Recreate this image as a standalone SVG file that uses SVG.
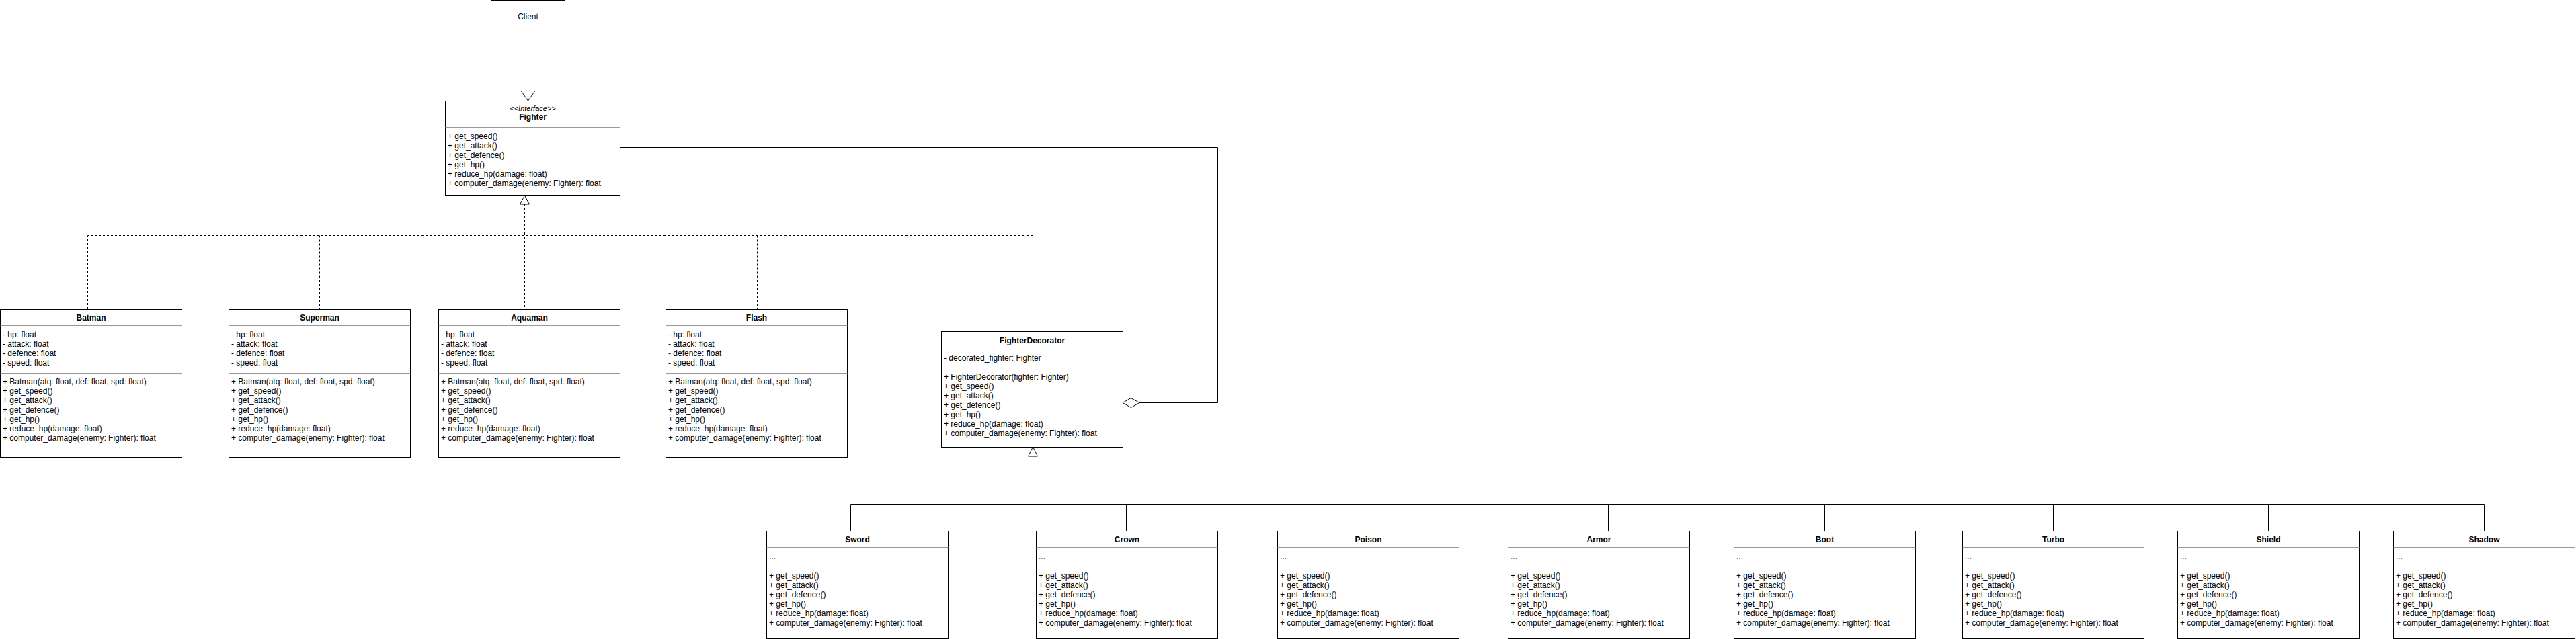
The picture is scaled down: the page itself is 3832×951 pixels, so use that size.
<svg xmlns="http://www.w3.org/2000/svg" width="3832" height="951" viewBox="0 0 3832 951">
<style>
.box{fill:#fff;stroke:#000;stroke-width:1}
.div{stroke:#999;stroke-width:1}
.t{font-family:"Liberation Sans",Arial,sans-serif;font-size:12px;fill:#000}
.b{font-weight:bold;text-anchor:middle}
.c{text-anchor:middle}
.i{font-style:italic;font-size:11px}
.dots{fill:#666}
.ln{fill:none;stroke:#000;stroke-width:1}
.dash{fill:none;stroke:#000;stroke-width:1;stroke-dasharray:3 3}
.tri{fill:#fff;stroke:#000;stroke-width:1}
</style>
<rect width="3832" height="951" fill="#fff"/>

<g id="connectors">
  <path class="ln" d="M785.5 50 V150"/>
  <path class="ln" d="M775.5 136 L785.5 150 L795.5 136"/>
  <path class="dash" d="M780.5 304 V460"/>
  <path class="dash" d="M130.5 460 V350.5 H1536.5 V493"/>
  <path class="dash" d="M475.5 350.5 V460"/>
  <path class="dash" d="M1126.5 350.5 V460"/>
  <polygon class="tri" points="780.5,291 773.5,304 787.5,304"/>
  <path class="ln" d="M922 219.5 H1811.5 V599.5 H1695"/>
  <polygon class="tri" points="1670,599.5 1682.5,592.5 1695,599.5 1682.5,606.5"/>
  <polygon class="tri" points="1536.5,665 1529.5,679 1543.5,679"/>
  <path class="ln" d="M1536.5 679 V750.5"/>
  <path class="ln" d="M1265.5 790 V750.5 H3695.5 V790"/>
  <path class="ln" d="M1675.5 750.5 V790 M2033.5 750.5 V790 M2392.5 750.5 V790 M2714.5 750.5 V790 M3054.5 750.5 V790 M3374.5 750.5 V790"/>
</g>

<g id="client">
  <rect class="box" x="730.5" y="0.5" width="110" height="50"/>
  <text class="t c" x="785.5" y="29">Client</text>
</g>

<g id="fighter">
  <rect class="box" x="662.5" y="150.5" width="260" height="140"/>
  <line class="div" x1="662.5" y1="189.5" x2="922.5" y2="189.5"/>
  <text class="t c i" x="792.5" y="165">&lt;&lt;Interface&gt;&gt;</text>
  <text class="t b" x="792.5" y="178">Fighter</text>
  <text class="t" x="666" y="207">+ get_speed()</text>
  <text class="t" x="666" y="221">+ get_attack()</text>
  <text class="t" x="666" y="235">+ get_defence()</text>
  <text class="t" x="666" y="249">+ get_hp()</text>
  <text class="t" x="666" y="263">+ reduce_hp(damage: float)</text>
  <text class="t" x="666" y="277">+ computer_damage(enemy: Fighter): float</text>
</g>

<g id="batman" transform="translate(0,460)">
  <rect class="box" x="0.5" y="0.5" width="270" height="220"/>
  <line class="div" x1="0.5" y1="24.5" x2="270.5" y2="24.5"/>
  <line class="div" x1="0.5" y1="95.5" x2="270.5" y2="95.5"/>
  <text class="t b" x="135.5" y="17">Batman</text>
  <text class="t" x="4" y="42">- hp: float</text>
  <text class="t" x="4" y="56">- attack: float</text>
  <text class="t" x="4" y="70">- defence: float</text>
  <text class="t" x="4" y="84">- speed: float</text>
  <text class="t" x="4" y="112">+ Batman(atq: float, def: float, spd: float)</text>
  <text class="t" x="4" y="126">+ get_speed()</text>
  <text class="t" x="4" y="140">+ get_attack()</text>
  <text class="t" x="4" y="154">+ get_defence()</text>
  <text class="t" x="4" y="168">+ get_hp()</text>
  <text class="t" x="4" y="182">+ reduce_hp(damage: float)</text>
  <text class="t" x="4" y="196">+ computer_damage(enemy: Fighter): float</text>
</g>

<g id="superman" transform="translate(340,460)">
  <rect class="box" x="0.5" y="0.5" width="270" height="220"/>
  <line class="div" x1="0.5" y1="24.5" x2="270.5" y2="24.5"/>
  <line class="div" x1="0.5" y1="95.5" x2="270.5" y2="95.5"/>
  <text class="t b" x="135.5" y="17">Superman</text>
  <text class="t" x="4" y="42">- hp: float</text>
  <text class="t" x="4" y="56">- attack: float</text>
  <text class="t" x="4" y="70">- defence: float</text>
  <text class="t" x="4" y="84">- speed: float</text>
  <text class="t" x="4" y="112">+ Batman(atq: float, def: float, spd: float)</text>
  <text class="t" x="4" y="126">+ get_speed()</text>
  <text class="t" x="4" y="140">+ get_attack()</text>
  <text class="t" x="4" y="154">+ get_defence()</text>
  <text class="t" x="4" y="168">+ get_hp()</text>
  <text class="t" x="4" y="182">+ reduce_hp(damage: float)</text>
  <text class="t" x="4" y="196">+ computer_damage(enemy: Fighter): float</text>
</g>

<g id="aquaman" transform="translate(652,460)">
  <rect class="box" x="0.5" y="0.5" width="270" height="220"/>
  <line class="div" x1="0.5" y1="24.5" x2="270.5" y2="24.5"/>
  <line class="div" x1="0.5" y1="95.5" x2="270.5" y2="95.5"/>
  <text class="t b" x="135.5" y="17">Aquaman</text>
  <text class="t" x="4" y="42">- hp: float</text>
  <text class="t" x="4" y="56">- attack: float</text>
  <text class="t" x="4" y="70">- defence: float</text>
  <text class="t" x="4" y="84">- speed: float</text>
  <text class="t" x="4" y="112">+ Batman(atq: float, def: float, spd: float)</text>
  <text class="t" x="4" y="126">+ get_speed()</text>
  <text class="t" x="4" y="140">+ get_attack()</text>
  <text class="t" x="4" y="154">+ get_defence()</text>
  <text class="t" x="4" y="168">+ get_hp()</text>
  <text class="t" x="4" y="182">+ reduce_hp(damage: float)</text>
  <text class="t" x="4" y="196">+ computer_damage(enemy: Fighter): float</text>
</g>

<g id="flash" transform="translate(990,460)">
  <rect class="box" x="0.5" y="0.5" width="270" height="220"/>
  <line class="div" x1="0.5" y1="24.5" x2="270.5" y2="24.5"/>
  <line class="div" x1="0.5" y1="95.5" x2="270.5" y2="95.5"/>
  <text class="t b" x="135.5" y="17">Flash</text>
  <text class="t" x="4" y="42">- hp: float</text>
  <text class="t" x="4" y="56">- attack: float</text>
  <text class="t" x="4" y="70">- defence: float</text>
  <text class="t" x="4" y="84">- speed: float</text>
  <text class="t" x="4" y="112">+ Batman(atq: float, def: float, spd: float)</text>
  <text class="t" x="4" y="126">+ get_speed()</text>
  <text class="t" x="4" y="140">+ get_attack()</text>
  <text class="t" x="4" y="154">+ get_defence()</text>
  <text class="t" x="4" y="168">+ get_hp()</text>
  <text class="t" x="4" y="182">+ reduce_hp(damage: float)</text>
  <text class="t" x="4" y="196">+ computer_damage(enemy: Fighter): float</text>
</g>

<g id="fighterdecorator" transform="translate(1400,493)">
  <rect class="box" x="0.5" y="0.5" width="270" height="172"/>
  <line class="div" x1="0.5" y1="26.5" x2="270.5" y2="26.5"/>
  <line class="div" x1="0.5" y1="54.5" x2="270.5" y2="54.5"/>
  <text class="t b" x="135.5" y="18">FighterDecorator</text>
  <text class="t" x="4" y="44">- decorated_fighter: Fighter</text>
  <text class="t" x="4" y="72">+ FighterDecorator(fighter: Fighter)</text>
  <text class="t" x="4" y="86">+ get_speed()</text>
  <text class="t" x="4" y="100">+ get_attack()</text>
  <text class="t" x="4" y="114">+ get_defence()</text>
  <text class="t" x="4" y="128">+ get_hp()</text>
  <text class="t" x="4" y="142">+ reduce_hp(damage: float)</text>
  <text class="t" x="4" y="156">+ computer_damage(enemy: Fighter): float</text>
</g>

<defs>
  <g id="deco-body">
    <rect class="box" x="0.5" y="0.5" width="270" height="160"/>
    <line class="div" x1="0.5" y1="24.5" x2="270.5" y2="24.5"/>
    <line class="div" x1="0.5" y1="52.5" x2="270.5" y2="52.5"/>
  </g>
</defs>

<g id="sword" transform="translate(1140,790)">
  <use href="#deco-body"/>
  <text class="t b" x="135.5" y="17">Sword</text>
  <text class="t dots" x="4" y="42">...</text>
  <text class="t" x="4" y="71">+ get_speed()</text>
  <text class="t" x="4" y="85">+ get_attack()</text>
  <text class="t" x="4" y="99">+ get_defence()</text>
  <text class="t" x="4" y="113">+ get_hp()</text>
  <text class="t" x="4" y="127">+ reduce_hp(damage: float)</text>
  <text class="t" x="4" y="141">+ computer_damage(enemy: Fighter): float</text>
</g>

<g id="crown" transform="translate(1541,790)">
  <use href="#deco-body"/>
  <text class="t b" x="135.5" y="17">Crown</text>
  <text class="t dots" x="4" y="42">...</text>
  <text class="t" x="4" y="71">+ get_speed()</text>
  <text class="t" x="4" y="85">+ get_attack()</text>
  <text class="t" x="4" y="99">+ get_defence()</text>
  <text class="t" x="4" y="113">+ get_hp()</text>
  <text class="t" x="4" y="127">+ reduce_hp(damage: float)</text>
  <text class="t" x="4" y="141">+ computer_damage(enemy: Fighter): float</text>
</g>

<g id="poison" transform="translate(1900,790)">
  <use href="#deco-body"/>
  <text class="t b" x="135.5" y="17">Poison</text>
  <text class="t dots" x="4" y="42">...</text>
  <text class="t" x="4" y="71">+ get_speed()</text>
  <text class="t" x="4" y="85">+ get_attack()</text>
  <text class="t" x="4" y="99">+ get_defence()</text>
  <text class="t" x="4" y="113">+ get_hp()</text>
  <text class="t" x="4" y="127">+ reduce_hp(damage: float)</text>
  <text class="t" x="4" y="141">+ computer_damage(enemy: Fighter): float</text>
</g>

<g id="armor" transform="translate(2243,790)">
  <use href="#deco-body"/>
  <text class="t b" x="135.5" y="17">Armor</text>
  <text class="t dots" x="4" y="42">...</text>
  <text class="t" x="4" y="71">+ get_speed()</text>
  <text class="t" x="4" y="85">+ get_attack()</text>
  <text class="t" x="4" y="99">+ get_defence()</text>
  <text class="t" x="4" y="113">+ get_hp()</text>
  <text class="t" x="4" y="127">+ reduce_hp(damage: float)</text>
  <text class="t" x="4" y="141">+ computer_damage(enemy: Fighter): float</text>
</g>

<g id="boot" transform="translate(2579,790)">
  <use href="#deco-body"/>
  <text class="t b" x="135.5" y="17">Boot</text>
  <text class="t dots" x="4" y="42">...</text>
  <text class="t" x="4" y="71">+ get_speed()</text>
  <text class="t" x="4" y="85">+ get_attack()</text>
  <text class="t" x="4" y="99">+ get_defence()</text>
  <text class="t" x="4" y="113">+ get_hp()</text>
  <text class="t" x="4" y="127">+ reduce_hp(damage: float)</text>
  <text class="t" x="4" y="141">+ computer_damage(enemy: Fighter): float</text>
</g>

<g id="turbo" transform="translate(2919,790)">
  <use href="#deco-body"/>
  <text class="t b" x="135.5" y="17">Turbo</text>
  <text class="t dots" x="4" y="42">...</text>
  <text class="t" x="4" y="71">+ get_speed()</text>
  <text class="t" x="4" y="85">+ get_attack()</text>
  <text class="t" x="4" y="99">+ get_defence()</text>
  <text class="t" x="4" y="113">+ get_hp()</text>
  <text class="t" x="4" y="127">+ reduce_hp(damage: float)</text>
  <text class="t" x="4" y="141">+ computer_damage(enemy: Fighter): float</text>
</g>

<g id="shield" transform="translate(3239,790)">
  <use href="#deco-body"/>
  <text class="t b" x="135.5" y="17">Shield</text>
  <text class="t dots" x="4" y="42">...</text>
  <text class="t" x="4" y="71">+ get_speed()</text>
  <text class="t" x="4" y="85">+ get_attack()</text>
  <text class="t" x="4" y="99">+ get_defence()</text>
  <text class="t" x="4" y="113">+ get_hp()</text>
  <text class="t" x="4" y="127">+ reduce_hp(damage: float)</text>
  <text class="t" x="4" y="141">+ computer_damage(enemy: Fighter): float</text>
</g>

<g id="shadow" transform="translate(3560,790)">
  <use href="#deco-body"/>
  <text class="t b" x="135.5" y="17">Shadow</text>
  <text class="t dots" x="4" y="42">...</text>
  <text class="t" x="4" y="71">+ get_speed()</text>
  <text class="t" x="4" y="85">+ get_attack()</text>
  <text class="t" x="4" y="99">+ get_defence()</text>
  <text class="t" x="4" y="113">+ get_hp()</text>
  <text class="t" x="4" y="127">+ reduce_hp(damage: float)</text>
  <text class="t" x="4" y="141">+ computer_damage(enemy: Fighter): float</text>
</g>
</svg>
